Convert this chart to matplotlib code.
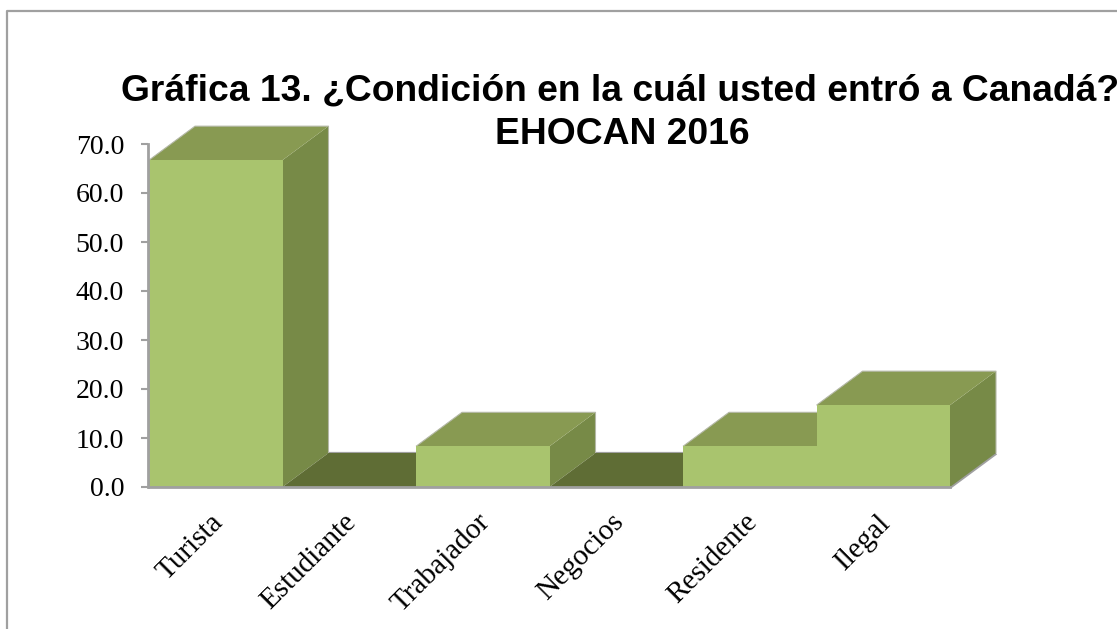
import matplotlib.pyplot as plt
from matplotlib.lines import Line2D
from matplotlib.patches import Polygon
from matplotlib.transforms import ScaledTranslation

categorias = ['Turista', 'Estudiante', 'Trabajador', 'Negocios', 'Residente', 'Ilegal']
valores = [66.7, 0.0, 8.3, 0.0, 8.3, 16.7]
ticks_y = [0, 10, 20, 30, 40, 50, 60, 70]

C_FRENTE = '#a9c46e'
C_TOPE = '#889a52'
C_LADO = '#778a47'
C_PISO = '#5f6d35'
C_GRIS = '#a0a0a0'

W, H = 1117, 629
fig = plt.figure(figsize=(W / 100, H / 100), dpi=100)
ax = fig.add_axes([149 / W, (H - 487) / H, 801 / W, 343 / H])
ax.set_xlim(0, 6)
ax.set_ylim(0, 70)

# profundidad del efecto 3D en unidades de datos (46 px, 34 px)
dx = 46 / (801 / 6)
dy = 34 / (343 / 70)


def poly(puntos, color, z):
    ax.add_patch(Polygon(puntos, closed=True, facecolor=color, edgecolor='none',
                         clip_on=False, zorder=z))


def linea(xs, ys, z, color=C_GRIS, lw=1.2):
    ax.plot(xs, ys, color=color, lw=lw, clip_on=False, zorder=z, solid_capstyle='butt')


# linea del piso detras y a la derecha, debajo de las barras
linea([dx, 6 + dx], [dy, dy], 1, lw=1.6)
linea([6, 6 + dx], [0, dy], 1, lw=2.6)

for i, v in enumerate(valores):
    z = 2 + i
    if v == 0:
        poly([(i, 0), (i + 1, 0), (i + 1 + dx, dy), (i + dx, dy)], C_PISO, z)
        continue
    poly([(i + 1, 0), (i + 1 + dx, dy), (i + 1 + dx, v + dy), (i + 1, v)], C_LADO, z)
    poly([(i, v), (i + 1, v), (i + 1 + dx, v + dy), (i + dx, v + dy)], C_TOPE, z)
    linea([i, i + dx, i + 1 + dx, i + 1 + dx], [v, v + dy, v + dy, dy], z, color='#b4b8a6', lw=0.8)
    ax.bar(i + 0.5, v, width=1, color=C_FRENTE, zorder=z, clip_on=False)

for lado in ['top', 'right']:
    ax.spines[lado].set_visible(False)
for lado in ['left', 'bottom']:
    ax.spines[lado].set_color(C_GRIS)
    ax.spines[lado].set_linewidth(2)
    ax.spines[lado].set_zorder(20)
ax.spines['left'].set_position(('outward', 1))

ax.set_yticks(ticks_y)
ax.set_yticklabels([f'{t:.1f}' for t in ticks_y], fontsize=20, family='Liberation Serif')
ax.set_xticks([i + 0.5 for i in range(6)])
ax.set_xticklabels(categorias, rotation=45, ha='right', rotation_mode='anchor',
                   fontsize=21, family='Liberation Serif')
ax.tick_params(axis='y', color=C_GRIS, width=1.5, length=5, pad=12, labelcolor='black')
ax.tick_params(axis='x', length=0, pad=16)

# mover las etiquetas un poco a la izquierda
corrimiento = ScaledTranslation(-6 / 100, 0, fig.dpi_scale_trans)
for t in ax.get_xticklabels():
    t.set_transform(t.get_transform() + corrimiento)

fig.text(620 / W, 1 - 91 / H, 'Gráfica 13. ¿Condición en la cuál usted entró a Canadá?',
         family='Liberation Sans', weight='bold', fontsize=26.8, ha='center', va='center')
fig.text(622 / W, 1 - 135 / H, 'EHOCAN 2016',
         family='Liberation Sans', weight='bold', fontsize=26.8, ha='center', va='center')

# marco gris de la imagen
fig.add_artist(Line2D([7 / W, 7 / W, 1], [0, 1 - 11 / H, 1 - 11 / H],
                      transform=fig.transFigure, color=C_GRIS, lw=1.6))

fig.savefig('out.png', dpi=100)
